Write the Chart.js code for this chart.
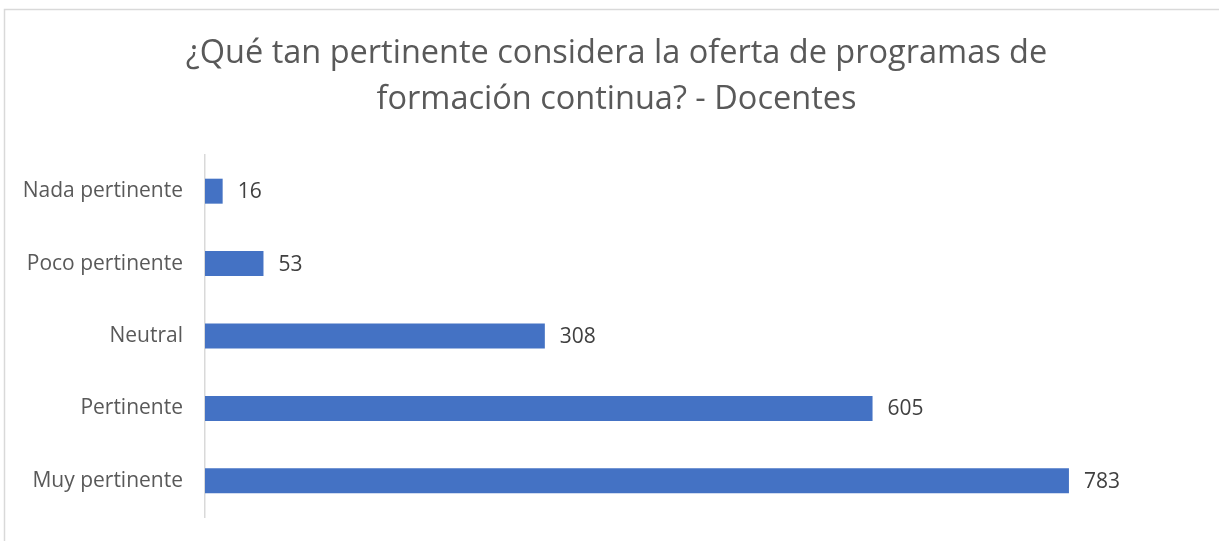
<!DOCTYPE html>
<html>
<head>
<meta charset="utf-8">
<script src="https://cdn.jsdelivr.net/npm/chart.js@4"></script>
<style>
  html, body { margin: 0; padding: 0; background: #ffffff; }
  #wrap { position: relative; width: 1219px; height: 541px; }
</style>
</head>
<body>
<div id="wrap"><canvas id="chart"></canvas></div>
<script>
// Data
const titleLines = ['¿Qué tan pertinente considera la oferta de programas de', 'formación continua? - Docentes'];
const categories = ['Nada pertinente', 'Poco pertinente', 'Neutral', 'Pertinente', 'Muy pertinente'];
const values = [16, 53, 308, 605, 783];
const xMax = 919;

const textGray = '#595959';
const labelGray = '#404040';
const barBlue = '#4472C4';
const lineGray = '#d9d9d9';

// Draw value labels at the end of each bar
const valueLabels = {
    id: 'valueLabels',
    afterDatasetsDraw: (chart) => {
        const ctx = chart.ctx;
        const meta = chart.getDatasetMeta(0);
        ctx.save();
        ctx.font = '21px "Open Sans"';
        ctx.fillStyle = labelGray;
        ctx.textAlign = 'left';
        ctx.textBaseline = 'middle';
        meta.data.forEach((bar, i) => {
            ctx.fillText(String(values[i]), bar.x + 15, bar.y + 1);
        });
        ctx.restore();
    }
};

// Light frame around the chart
const frame = {
    id: 'frame',
    beforeDraw: (chart) => {
        const ctx = chart.ctx;
        ctx.save();
        ctx.strokeStyle = lineGray;
        ctx.lineWidth = 1.5;
        ctx.strokeRect(4.5, 9.5, chart.width + 10, chart.height + 10);
        ctx.restore();
    }
};

new Chart(document.getElementById('chart'), {
    type: 'bar',
    data: {
        labels: categories,
        datasets: [{
            data: values,
            backgroundColor: barBlue,
            borderWidth: 0,
            categoryPercentage: 0.345,
            barPercentage: 1
        }]
    },
    options: {
        indexAxis: 'y',
        responsive: true,
        maintainAspectRatio: false,
        animation: false,
        layout: {
            padding: { top: 31, bottom: 24, left: 14, right: 0 }
        },
        plugins: {
            legend: { display: false },
            tooltip: { enabled: false },
            title: {
                display: true,
                text: titleLines,
                color: textGray,
                font: { family: '"Open Sans"', size: 32.5, weight: 'normal', lineHeight: 1.415 },
                padding: { top: 0, bottom: 32 }
            }
        },
        scales: {
            x: {
                display: false,
                min: 0,
                max: xMax
            },
            y: {
                afterFit: (scale) => {
                    scale.width = 191;
                    scale.paddingTop = 0;
                    scale.paddingBottom = 0;
                },
                grid: { display: false, drawTicks: false },
                border: { display: true, color: lineGray, width: 1.5 },
                ticks: {
                    color: textGray,
                    padding: 22,
                    font: { family: '"Open Sans"', size: 21 }
                }
            }
        }
    },
    plugins: [frame, valueLabels]
});
</script>
</body>
</html>
